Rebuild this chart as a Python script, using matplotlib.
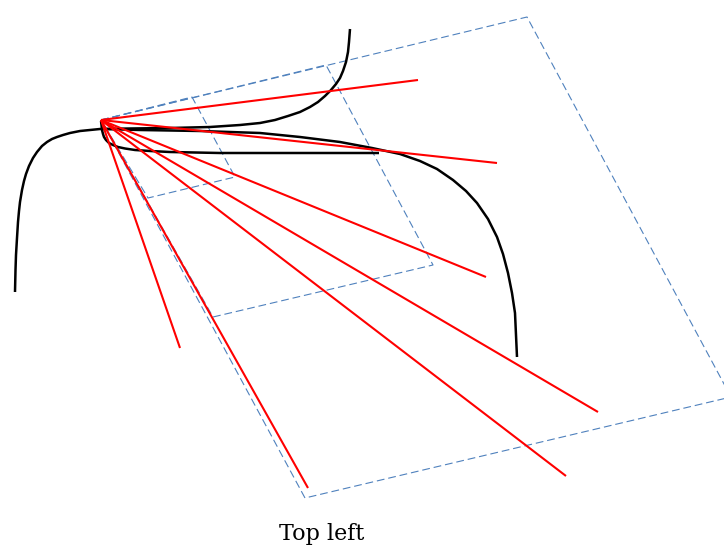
import matplotlib
matplotlib.use("Agg")
import matplotlib.pyplot as plt

# Diagram drawn in image-like coordinates (x right, y down)
origin = (101, 120)

# red rays from the origin to these end points
ray_ends_x = [418, 497, 486, 598, 566, 308, 180]
ray_ends_y = [80, 163, 277, 412, 476, 488, 348]

# nested dashed parallelograms (corner points, first corner is the origin)
inner_x = [101, 192, 235, 148]
inner_y = [120, 97, 177, 198]
middle_x = [101, 326, 433, 213]
middle_y = [120, 65, 265, 317]
outer_x = [101, 527, 731, 305]
outer_y = [120, 17, 397, 498]

# black curves
curve_a_x = [15, 15.5, 16, 17, 18, 19, 20, 22, 24, 26, 29, 33, 37, 42, 47, 52,
             57, 63, 70, 80, 90, 100, 130, 170, 210, 240, 260, 275, 288, 300,
             310, 318, 325, 331, 336, 340, 343, 346, 348, 349, 350]
curve_a_y = [292, 270, 255, 238, 222, 211, 202, 190, 181, 174, 166, 158, 152,
             146, 142, 139, 137, 135, 133, 131, 130, 129, 128.5, 128, 127, 125,
             123, 120, 116, 112, 107, 102, 96, 90, 84, 78, 71, 62, 52, 42, 29]
curve_b_x = [103, 140, 200, 260, 300, 340, 372, 400, 420, 437, 453, 466, 477,
             488, 497, 503, 508, 512, 515, 516, 517]
curve_b_y = [129, 130, 131, 133, 137, 142, 148, 154, 161, 169, 180, 191, 203,
             219, 237, 254, 273, 293, 313, 335, 357]
curve_c_x = [101, 101.5, 102, 103, 104, 106, 109, 113, 118, 125, 135, 150, 170,
             220, 300, 379]
curve_c_y = [121, 125, 130, 134, 137, 140, 143, 145, 147, 148.5, 150, 151, 152,
             153, 153, 153]

caption = "Top left"

fig = plt.figure(figsize=(7.24, 5.48), dpi=100)
ax = fig.add_axes([0, 0, 1, 1])
ax.set_xlim(0, 724)
ax.set_ylim(548, 0)
ax.axis("off")

dash = dict(color="#4f81bd", lw=0.8, linestyle=(0, (7, 3.5)))
for px, py in [(inner_x, inner_y), (middle_x, middle_y), (outer_x, outer_y)]:
    ax.plot(px + px[:1], py + py[:1], **dash)

for cx, cy in [(curve_a_x, curve_a_y), (curve_b_x, curve_b_y), (curve_c_x, curve_c_y)]:
    ax.plot(cx, cy, color="black", lw=1.8, solid_capstyle="butt",
            solid_joinstyle="round")

for ex, ey in zip(ray_ends_x, ray_ends_y):
    ax.plot([origin[0], ex], [origin[1], ey], color="#ff0000", lw=1.5,
            solid_capstyle="butt")

ax.text(322, 534, caption, ha="center", va="center", fontsize=16,
        family="DejaVu Serif")

fig.savefig("out.png", dpi=100)
